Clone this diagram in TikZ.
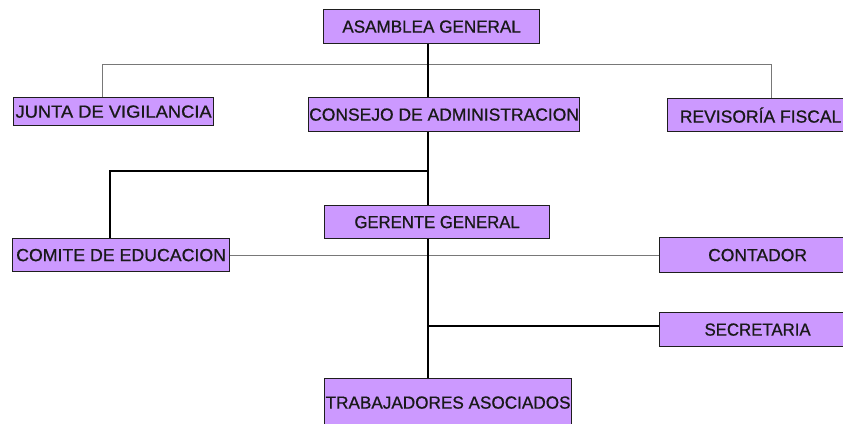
\documentclass[tikz,border=0pt]{standalone}
\usepackage{fontspec}
\setmainfont{Liberation Sans}
\newfontfamily\boxfont[FakeBold=0.8]{Liberation Sans}
\definecolor{boxfill}{RGB}{204,153,255}
\definecolor{boxline}{RGB}{30,30,30}
\definecolor{thinline}{RGB}{120,120,120}
\definecolor{txt}{RGB}{25,25,25}
\tikzset{
  orgbox/.style={draw=boxline, line width=1.2pt, fill=boxfill, inner sep=0pt,
    anchor=north west, text=txt, font=\boxfont\fontsize{17.5}{20}\selectfont},
  thickconn/.style={draw=black, line width=1.4pt},
  thinconn/.style={draw=thinline, line width=0.9pt}
}
\newcommand{\sx}[2]{\scalebox{#1}[1]{#2}}
\begin{document}
\begin{tikzpicture}[x=1pt,y=-1pt]
\useasboundingbox[fill=white] (0,0) rectangle (843,423);
% boxes
\node[orgbox, minimum width=216pt, minimum height=34pt] (asam) at (323,9) {\sx{0.976}{ASAMBLEA GENERAL}};
\node[orgbox, minimum width=200pt, minimum height=28pt] (junta) at (13,97) {\sx{1.047}{JUNTA DE VIGILANCIA}};
\node[orgbox, minimum width=271pt, minimum height=34pt] (consejo) at (308,97) {\sx{0.998}{CONSEJO DE ADMINISTRACION}};
\node[orgbox, minimum width=186pt, minimum height=33pt] (revisoria) at (667,98) {\sx{1.0}{REVISORÍA FISCAL}};
\node[orgbox, minimum width=225pt, minimum height=33pt] (gerente) at (324,205) {\sx{0.955}{GERENTE GENERAL}};
\node[orgbox, minimum width=217pt, minimum height=33pt] (comite) at (12,238) {\sx{1.013}{COMITE DE EDUCACION}};
\node[orgbox, minimum width=196pt, minimum height=35pt] (contador) at (659,237) {\sx{1.0}{CONTADOR}};
\node[orgbox, minimum width=196pt, minimum height=34pt] (secretaria) at (659,312) {\sx{0.96}{SECRETARIA}};
\node[orgbox, minimum width=247pt, minimum height=48pt] (trab) at (324,378) {\sx{0.98}{TRABAJADORES ASOCIADOS}};
% connector coordinates
\coordinate (sp) at (428,0);
\coordinate (jt) at (102,64);
\coordinate (rt) at (771,64);
\coordinate (ct) at (110,171);
\coordinate (sj) at (428,326);
% connectors
\draw[thinconn] (jt |- junta.north) -- (jt) -- (rt) -- (rt |- revisoria.north);
\draw[thickconn] (asam.south -| sp) -- (consejo.north -| sp);
\draw[thickconn] (consejo.south -| sp) -- (gerente.north -| sp);
\draw[thickconn] (sp |- ct) -- (ct) -- (ct |- comite.north);
\draw[thinconn] (comite.east) -- (contador.west |- comite.east);
\draw[thickconn] (gerente.south -| sp) -- (trab.north -| sp);
\draw[thickconn] (sj) -- (sj -| secretaria.west);
\end{tikzpicture}
\end{document}
